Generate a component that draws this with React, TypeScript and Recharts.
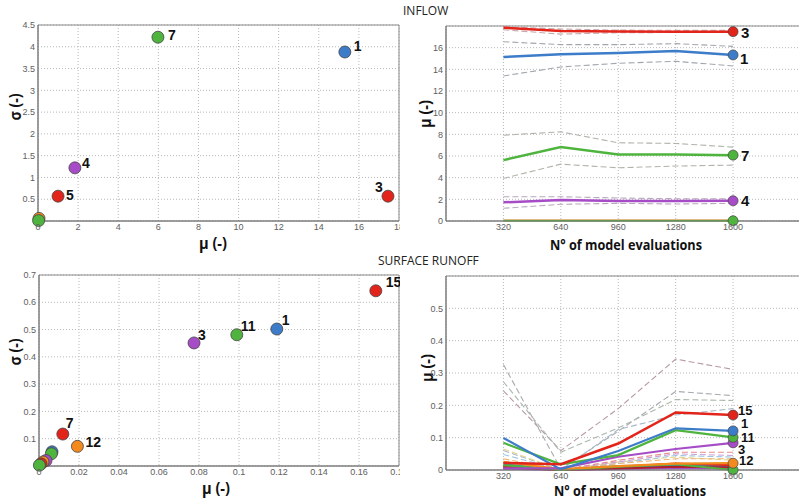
import React from 'react';
import { ScatterChart, Scatter, LineChart, Line, XAxis, YAxis, CartesianGrid, ReferenceArea } from 'recharts';

// ---------- DATA ----------
const panelTitles = ['INFLOW', 'SURFACE RUNOFF'];
const evals = [320, 640, 960, 1280, 1600];

// Inflow scatter (mu, sigma)
const inflowIds = ['7', '1', '4', '5', '3', '', ''];
const inflowMu = [5.98, 15.3, 1.84, 1.0, 17.45, 0.05, 0.03];
const inflowSigma = [4.22, 3.88, 1.22, 0.57, 0.57, 0.06, 0.01];

// Runoff scatter (mu, sigma)
const runoffIds = ['15', '1', '11', '3', '7', '12', '', '', '', '', '', ''];
const runoffMu = [0.1684, 0.1189, 0.0989, 0.0775, 0.0119, 0.0192, 0.0065, 0.0062, 0.0035, 0.002, 0.001, 0.0002];
const runoffSigma = [0.642, 0.502, 0.481, 0.451, 0.117, 0.072, 0.052, 0.045, 0.02, 0.015, 0.008, 0.003];

// Inflow convergence (mean and bounds) per number of evaluations
const inflow3 = [17.84, 17.54, 17.5, 17.48, 17.48];
const inflow3Up = [17.95, 17.72, 17.62, 17.6, 17.6];
const inflow3Lo = [17.65, 17.25, 17.38, 17.4, 17.42];
const inflow1 = [15.14, 15.39, 15.51, 15.7, 15.33];
const inflow1Up = [16.55, 16.28, 16.28, 16.37, 16.12];
const inflow1Lo = [13.39, 14.22, 14.56, 14.74, 14.31];
const inflow7 = [5.62, 6.82, 6.14, 6.14, 6.08];
const inflow7Up = [7.92, 8.23, 7.22, 7.16, 6.82];
const inflow7Lo = [3.93, 5.25, 4.91, 5.07, 5.16];
const inflow4 = [1.72, 1.93, 1.84, 1.84, 1.87];
const inflow4Up = [2.24, 2.24, 2.12, 2.06, 2.06];
const inflow4Lo = [1.17, 1.54, 1.63, 1.57, 1.63];
const inflowLowA = [0.08, 0.08, 0.08, 0.08, 0.08];
const inflowLowB = [0.02, 0.02, 0.02, 0.02, 0.02];

// Runoff convergence
const runoff15 = [0.022, 0.018, 0.082, 0.178, 0.170];
const runoff1 = [0.099, 0.002, 0.059, 0.129, 0.121];
const runoff11 = [0.084, 0.0175, 0.046, 0.123, 0.101];
const runoff3 = [0.005, 0.005, 0.041, 0.065, 0.084];
const runoff12 = [0.025, 0.003, 0.012, 0.02, 0.021];
const runoffLowA = [0.012, 0.0, 0.01, 0.02, 0.015];
const runoffLowB = [0.015, 0.0, 0.01, 0.018, 0.0];
const runoffLowC = [0.01, 0.0, 0.008, 0.012, 0.01];
const runoffLowD = [0.004, 0.0, 0.003, 0.006, 0.005];
const runoffLowE = [0.018, 0.0, 0.012, 0.014, 0.012];
const runoffLowF = [0.008, 0.0, 0.005, 0.01, 0.008];
const runoffDashA = [0.245, 0.06, 0.19, 0.343, 0.311];
const runoffDashB = [0.326, 0.003, 0.12, 0.243, 0.23];
const runoffDashC = [0.273, 0.055, 0.13, 0.218, 0.215];
const runoffDashD = [0.06, 0.0, 0.125, 0.17, 0.19];
const runoffDashE = [0.065, 0.0, 0.025, 0.04, 0.03];
const runoffDashF = [0.048, 0.0, 0.02, 0.045, 0.04];
const runoffDashG = [0.012, 0.0, 0.03, 0.055, 0.055];
const runoffDashH = [0.035, 0.0, 0.02, 0.035, 0.035];
const runoffDashI = [0.02, 0.0, 0.025, 0.05, 0.045];

// Tick labels
const inflowMuTicks = [0, 2, 4, 6, 8, 10, 12, 14, 16, 18];
const inflowSigmaTicks = [0.5, 1, 1.5, 2, 2.5, 3, 3.5, 4, 4.5];
const runoffMuTicks = [0, 0.02, 0.04, 0.06, 0.08, 0.1, 0.12, 0.14, 0.16, 0.18];
const runoffSigmaTicks = [0.1, 0.2, 0.3, 0.4, 0.5, 0.6, 0.7];
const inflowConvTicks = [0, 2, 4, 6, 8, 10, 12, 14, 16];
const runoffConvTicks = [0, 0.1, 0.2, 0.3, 0.4, 0.5];

// ---------- STYLES ----------
const C = { blue: '#3c7cc8', red: '#e2241b', green: '#4fb43e', purple: '#a64cc6', orange: '#f28a1e', tan: '#d9a55a', dred: '#b0202a', teal: '#2aa6a0', yellow: '#e8c21e' };
const inflowPointColors = [C.green, C.blue, C.purple, C.red, C.red, C.orange, C.green];
const inflowLabelOffsets = [[10, -2], [9, -6], [7, -5], [8, -1], [-13, -9], [0, 0], [0, 0]];
const runoffPointColors = [C.red, C.blue, C.green, C.purple, C.red, C.orange, C.blue, C.green, C.purple, C.orange, C.red, C.green];
const runoffLabelOffsets = [[10, -9], [5, -9], [4, -9], [4, -8], [3, -11], [8, -4], [0, 0], [0, 0], [0, 0], [0, 0], [0, 0], [0, 0]];

const tickStyle = { fontSize: 9, fill: '#606060', fontFamily: 'Liberation Sans, Arial, sans-serif' };
const gridColor = '#b8b8b8';
const boxColor = '#8a8a8a';
const labelFont = '"Open Sans", "DejaVu Sans", sans-serif';
const markFont = '"Liberation Sans", Arial, sans-serif';

const axisTitle = (x: number, y: number, text: string, len: number, rotate = false, size = 16) => () => (
  <text
    x={x}
    y={y}
    textAnchor="middle"
    dominantBaseline="central"
    fontFamily={labelFont}
    fontWeight={700}
    fontSize={size}
    fill="#111"
    textLength={len}
    lengthAdjust="spacingAndGlyphs"
    transform={rotate ? `rotate(-90 ${x} ${y})` : undefined}
  >
    {text}
  </text>
);

const makeScatterShape = (colors: string[], offsets: number[][]) => (props: any) => {
  const { cx, cy, payload } = props;
  const i = payload.idx;
  const [dx, dy] = offsets[i];
  return (
    <g>
      <circle cx={cx} cy={cy} r={6} fill={colors[i]} stroke="#444" strokeWidth={0.8} />
      {payload.id ? (
        <text x={cx + dx} y={cy + dy} dominantBaseline="central" fontFamily={markFont} fontWeight={700} fontSize={14} fill="#111">
          {payload.id}
        </text>
      ) : null}
    </g>
  );
};

const endDot = (color: string, label: string, dx: number, dy: number, size = 15) => (props: any) => {
  const { cx, cy, index } = props;
  if (index !== evals.length - 1) return <g key={`e${index}`} />;
  return (
    <g key={`e${index}`}>
      <circle cx={cx} cy={cy} r={5} fill={color} stroke="#444" strokeWidth={0.7} />
      {label ? (
        <text x={cx + dx} y={cy + dy} dominantBaseline="central" fontFamily={markFont} fontWeight={700} fontSize={size} fill="#111">
          {label}
        </text>
      ) : null}
    </g>
  );
};

const buildTable = (series: Record<string, number[]>) =>
  evals.map((n, i) => {
    const row: Record<string, number> = { n };
    Object.keys(series).forEach((k) => (row[k] = series[k][i]));
    return row;
  });

const inflowTable = buildTable({ inflow3, inflow3Up, inflow3Lo, inflow1, inflow1Up, inflow1Lo, inflow7, inflow7Up, inflow7Lo, inflow4, inflow4Up, inflow4Lo, inflowLowA, inflowLowB });
const runoffTable = buildTable({ runoff15, runoff1, runoff11, runoff3, runoff12, runoffLowA, runoffLowB, runoffLowC, runoffLowD, runoffLowE, runoffLowF, runoffDashA, runoffDashB, runoffDashC, runoffDashD, runoffDashE, runoffDashF, runoffDashG, runoffDashH, runoffDashI });

const inflowPoints = inflowMu.map((mu, i) => ({ mu, sigma: inflowSigma[i], id: inflowIds[i], idx: i }));
const runoffPoints = runoffMu.map((mu, i) => ({ mu, sigma: runoffSigma[i], id: runoffIds[i], idx: i }));

const dashedStyle = { strokeWidth: 1.1, strokeDasharray: '6 3' };

export default function App() {
  return (
    <div style={{ position: 'fixed', left: 0, top: 0, width: 799, height: 499, background: '#fff', overflow: 'hidden' }}>
      <div style={{ position: 'absolute', left: 403, top: 2, fontFamily: '"Open Sans", sans-serif', fontSize: 12, color: '#222', letterSpacing: 0 }}>{panelTitles[0]}</div>
      <div style={{ position: 'absolute', left: 378, top: 252, fontFamily: '"Open Sans", sans-serif', fontSize: 12, color: '#222' }}>{panelTitles[1]}</div>

      {/* Top-left: inflow scatter */}
      <div style={{ position: 'absolute', left: 0, top: 0 }}>
        <ScatterChart width={400} height={256} margin={{ top: 25, right: 1, bottom: 0, left: 0 }}>
          <CartesianGrid stroke={gridColor} strokeDasharray="1 2" />
          <XAxis type="number" dataKey="mu" domain={[0, 18]} ticks={inflowMuTicks} interval={0} tick={tickStyle} tickLine={false} tickSize={2} tickMargin={1} axisLine={{ stroke: '#777' }} height={35} label={{ content: axisTitle(213, 243, 'μ (-)', 28) }} />
          <YAxis type="number" dataKey="sigma" domain={[0, 4.5]} ticks={inflowSigmaTicks} interval={0} tick={tickStyle} tickLine={false} tickSize={2} tickMargin={1} axisLine={{ stroke: '#777' }} width={38} label={{ content: axisTitle(15, 107, 'σ (-)', 27, true) }} />
          <ReferenceArea x1={0} x2={18} y1={0} y2={4.5} fill="none" stroke={boxColor} ifOverflow="visible" />
          <Scatter data={inflowPoints} isAnimationActive={false} shape={makeScatterShape(inflowPointColors, inflowLabelOffsets)} />
        </ScatterChart>
      </div>

      {/* Top-right: inflow convergence */}
      <div style={{ position: 'absolute', left: 400, top: 0 }}>
        <LineChart width={400} height={256} data={inflowTable} margin={{ top: 26, right: 0, bottom: 0, left: 0 }}>
          <CartesianGrid stroke={gridColor} strokeDasharray="1 2" />
          <XAxis type="number" dataKey="n" domain={[0, 1973]} allowDataOverflow ticks={evals} interval={0} tick={tickStyle} tickLine={false} tickSize={2} tickMargin={1} axisLine={{ stroke: '#777' }} height={35} label={{ content: axisTitle(226, 244, 'N° of model evaluations', 152, false, 15) }} />
          <YAxis type="number" domain={[0, 18]} ticks={inflowConvTicks} interval={0} tick={tickStyle} tickLine={false} tickSize={2} tickMargin={1} axisLine={{ stroke: '#777' }} width={46} label={{ content: axisTitle(25, 114, 'μ (-)', 28, true) }} />
          <ReferenceArea x1={0} x2={1973} y1={0} y2={18} fill="none" stroke={boxColor} ifOverflow="visible" />
          <Line dataKey="inflow3Up" stroke="#c8a8a8" {...dashedStyle} dot={false} isAnimationActive={false} />
          <Line dataKey="inflow3Lo" stroke="#c8a8a8" {...dashedStyle} dot={false} isAnimationActive={false} />
          <Line dataKey="inflow1Up" stroke="#a2a6ae" {...dashedStyle} dot={false} isAnimationActive={false} />
          <Line dataKey="inflow1Lo" stroke="#a2a6ae" {...dashedStyle} dot={false} isAnimationActive={false} />
          <Line dataKey="inflow7Up" stroke="#b0b4aa" {...dashedStyle} dot={false} isAnimationActive={false} />
          <Line dataKey="inflow7Lo" stroke="#b0b4aa" {...dashedStyle} dot={false} isAnimationActive={false} />
          <Line dataKey="inflow4Up" stroke="#b8a8bc" {...dashedStyle} dot={false} isAnimationActive={false} />
          <Line dataKey="inflow4Lo" stroke="#b8a8bc" {...dashedStyle} dot={false} isAnimationActive={false} />
          <Line dataKey="inflowLowA" stroke={C.tan} strokeWidth={2} dot={false} isAnimationActive={false} />
          <Line dataKey="inflowLowB" stroke={C.green} strokeWidth={1.5} dot={endDot(C.green, '', 0, 0)} isAnimationActive={false} />
          <Line dataKey="inflow4" stroke={C.purple} strokeWidth={2.5} dot={endDot(C.purple, '4', 8, 0)} isAnimationActive={false} />
          <Line dataKey="inflow7" stroke={C.green} strokeWidth={2.5} dot={endDot(C.green, '7', 8, 0)} isAnimationActive={false} />
          <Line dataKey="inflow1" stroke={C.blue} strokeWidth={2.5} dot={endDot(C.blue, '1', 7, 4)} isAnimationActive={false} />
          <Line dataKey="inflow3" stroke={C.red} strokeWidth={2.5} dot={endDot(C.red, '3', 8, 1)} isAnimationActive={false} />
        </LineChart>
      </div>

      {/* Bottom-left: runoff scatter */}
      <div style={{ position: 'absolute', left: 0, top: 250 }}>
        <ScatterChart width={400} height={249} margin={{ top: 25, right: 1, bottom: 0, left: 0 }}>
          <CartesianGrid stroke={gridColor} strokeDasharray="1 2" />
          <XAxis type="number" dataKey="mu" domain={[0, 0.18]} ticks={runoffMuTicks} interval={0} tick={tickStyle} tickLine={false} tickSize={2} tickMargin={1} axisLine={{ stroke: '#777' }} height={33} label={{ content: axisTitle(216, 238, 'μ (-)', 28) }} />
          <YAxis type="number" dataKey="sigma" domain={[0, 0.7]} ticks={runoffSigmaTicks} interval={0} tick={tickStyle} tickLine={false} tickSize={2} tickMargin={1} axisLine={{ stroke: '#777' }} width={39} label={{ content: axisTitle(15, 102, 'σ (-)', 27, true) }} />
          <ReferenceArea x1={0} x2={0.18} y1={0} y2={0.7} fill="none" stroke={boxColor} ifOverflow="visible" />
          <Scatter data={runoffPoints} isAnimationActive={false} shape={makeScatterShape(runoffPointColors, runoffLabelOffsets)} />
        </ScatterChart>
      </div>

      {/* Bottom-right: runoff convergence */}
      <div style={{ position: 'absolute', left: 400, top: 250 }}>
        <LineChart width={400} height={249} data={runoffTable} margin={{ top: 26, right: 0, bottom: 0, left: 0 }}>
          <CartesianGrid stroke={gridColor} strokeDasharray="1 2" />
          <XAxis type="number" dataKey="n" domain={[0, 1973]} allowDataOverflow ticks={evals} interval={0} tick={tickStyle} tickLine={false} tickSize={2} tickMargin={1} axisLine={{ stroke: '#777' }} height={29} label={{ content: axisTitle(230, 240, 'N° of model evaluations', 152, false, 15) }} />
          <YAxis type="number" domain={[0, 0.6]} ticks={runoffConvTicks} interval={0} tick={tickStyle} tickLine={false} tickSize={2} tickMargin={1} axisLine={{ stroke: '#777' }} width={46} label={{ content: axisTitle(27, 118, 'μ (-)', 28, true) }} />
          <ReferenceArea x1={0} x2={1973} y1={0} y2={0.6} fill="none" stroke={boxColor} ifOverflow="visible" />
          <Line dataKey="runoffDashA" stroke="#b89aa6" {...dashedStyle} dot={false} isAnimationActive={false} />
          <Line dataKey="runoffDashB" stroke="#a8aab0" {...dashedStyle} dot={false} isAnimationActive={false} />
          <Line dataKey="runoffDashC" stroke="#aab8aa" {...dashedStyle} dot={false} isAnimationActive={false} />
          <Line dataKey="runoffDashD" stroke="#a8b8c8" {...dashedStyle} dot={false} isAnimationActive={false} />
          <Line dataKey="runoffDashE" stroke="#e6d68a" {...dashedStyle} dot={false} isAnimationActive={false} />
          <Line dataKey="runoffDashF" stroke="#9cc6e0" {...dashedStyle} dot={false} isAnimationActive={false} />
          <Line dataKey="runoffDashG" stroke="#e88a8a" {...dashedStyle} dot={false} isAnimationActive={false} />
          <Line dataKey="runoffDashH" stroke="#f0b070" {...dashedStyle} dot={false} isAnimationActive={false} />
          <Line dataKey="runoffDashI" stroke="#c8a0d8" {...dashedStyle} dot={false} isAnimationActive={false} />
          <Line dataKey="runoffLowE" stroke={C.teal} strokeWidth={2} dot={false} isAnimationActive={false} />
          <Line dataKey="runoffLowC" stroke={C.blue} strokeWidth={2} dot={false} isAnimationActive={false} />
          <Line dataKey="runoffLowD" stroke={C.purple} strokeWidth={2} dot={false} isAnimationActive={false} />
          <Line dataKey="runoffLowA" stroke={C.red} strokeWidth={2} dot={false} isAnimationActive={false} />
          <Line dataKey="runoffLowF" stroke={C.dred} strokeWidth={2} dot={false} isAnimationActive={false} />
          <Line dataKey="runoffLowB" stroke={C.green} strokeWidth={2} dot={endDot(C.green, '', 0, 0)} isAnimationActive={false} />
          <Line dataKey="runoff12" stroke={C.orange} strokeWidth={2.2} dot={endDot(C.orange, '12', 6, -3, 13)} isAnimationActive={false} />
          <Line dataKey="runoff3" stroke={C.purple} strokeWidth={2.2} dot={endDot(C.purple, '3', 5, 7, 13)} isAnimationActive={false} />
          <Line dataKey="runoff11" stroke={C.green} strokeWidth={2.2} dot={endDot(C.green, '11', 8, 0, 13)} isAnimationActive={false} />
          <Line dataKey="runoff1" stroke={C.blue} strokeWidth={2.2} dot={endDot(C.blue, '1', 8, -7, 13)} isAnimationActive={false} />
          <Line dataKey="runoff15" stroke={C.red} strokeWidth={2.5} dot={endDot(C.red, '15', 5, -5, 13)} isAnimationActive={false} />
        </LineChart>
      </div>
    </div>
  );
}
